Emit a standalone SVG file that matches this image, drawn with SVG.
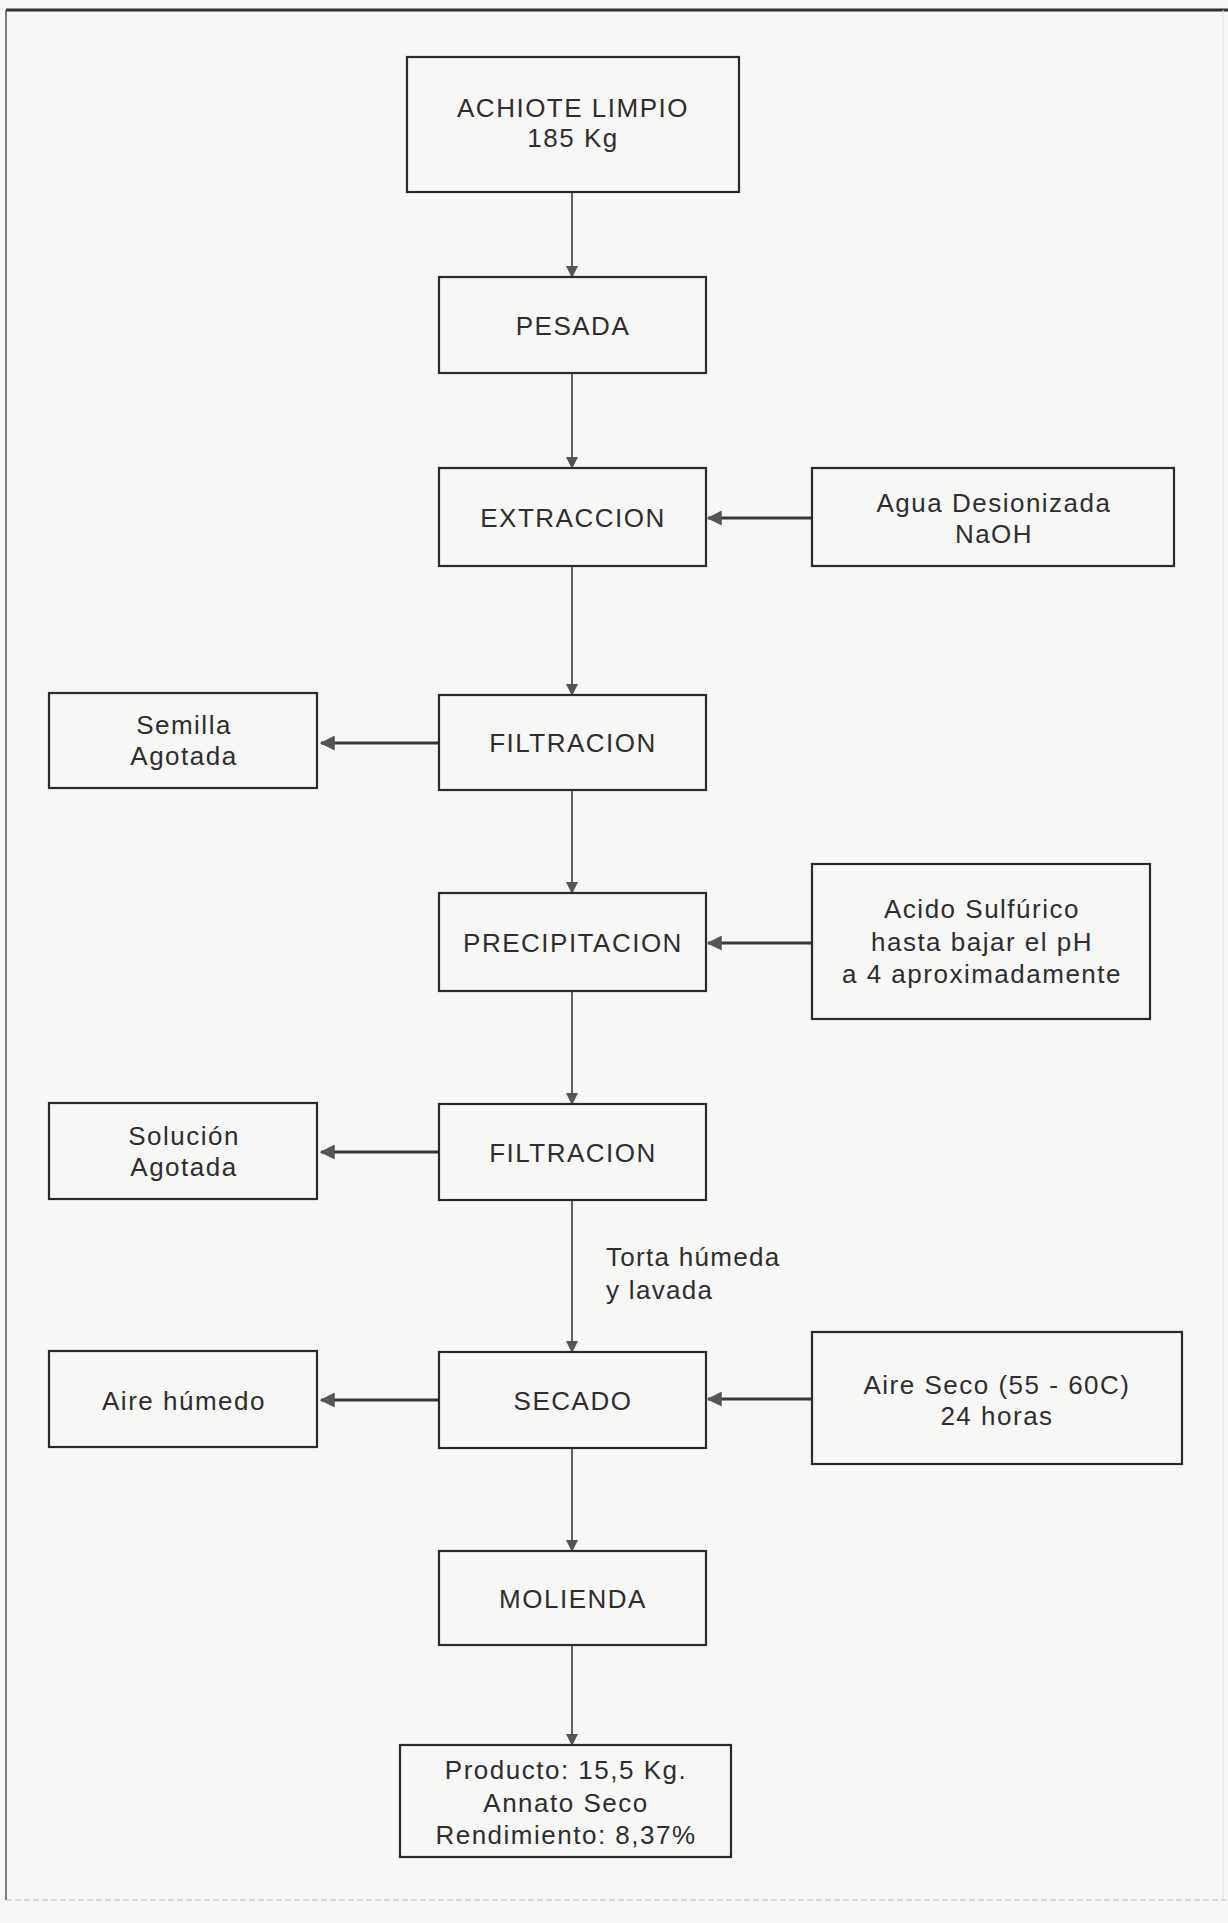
<svg xmlns="http://www.w3.org/2000/svg" width="1228" height="1923" viewBox="0 0 1228 1923">
<style>
.bx{fill:none;stroke:#2b2b2b;stroke-width:2.2}
.t{font-family:"Liberation Sans",Arial,sans-serif;font-size:26px;letter-spacing:1.5px;fill:#2e2e2e;text-anchor:middle}
.ts{font-family:"Liberation Sans",Arial,sans-serif;font-size:26px;letter-spacing:1.3px;fill:#2e2e2e;text-anchor:start}
.v{stroke:#3a3a3a;stroke-width:1.6;fill:none}
.h{stroke:#3a3a3a;stroke-width:3;fill:none}
</style>
<defs>
<marker id="ah" viewBox="0 0 12 12" refX="11" refY="6" markerWidth="12" markerHeight="12" markerUnits="userSpaceOnUse" orient="auto">
<path d="M0,0 L12,6 L0,12 z" fill="#555"/>
</marker>
<marker id="ahh" viewBox="0 0 12 12" refX="11" refY="6" markerWidth="5" markerHeight="5" orient="auto">
<path d="M0,0 L12,6 L0,12 z" fill="#555"/>
</marker>
</defs>
<rect x="0" y="0" width="1228" height="1923" fill="#f7f7f6"/>
<g id="frame">
<line x1="6" y1="10" x2="1228" y2="10" stroke="#2f2f2f" stroke-width="3"/>
<line x1="6" y1="10" x2="6" y2="1900" stroke="#555" stroke-width="1.5"/>
<line x1="6" y1="1900" x2="1228" y2="1900" stroke="#bbb" stroke-width="1.2" stroke-dasharray="6,3"/>
<line x1="1223" y1="10" x2="1223" y2="1900" stroke="#e2e2e2" stroke-width="1"/>
</g>
<g id="connectors">
<line class="v" x1="572" y1="192" x2="572" y2="277" marker-end="url(#ah)"/>
<line class="v" x1="572" y1="373" x2="572" y2="468" marker-end="url(#ah)"/>
<line class="h" x1="812" y1="518" x2="708" y2="518" marker-end="url(#ahh)"/>
<line class="v" x1="572" y1="566" x2="572" y2="695" marker-end="url(#ah)"/>
<line class="h" x1="439" y1="743" x2="321" y2="743" marker-end="url(#ahh)"/>
<line class="v" x1="572" y1="790" x2="572" y2="893" marker-end="url(#ah)"/>
<line class="h" x1="812" y1="943" x2="708" y2="943" marker-end="url(#ahh)"/>
<line class="v" x1="572" y1="991" x2="572" y2="1104" marker-end="url(#ah)"/>
<line class="h" x1="439" y1="1152" x2="321" y2="1152" marker-end="url(#ahh)"/>
<line class="v" x1="572" y1="1200" x2="572" y2="1352" marker-end="url(#ah)"/>
<line class="h" x1="439" y1="1400" x2="321" y2="1400" marker-end="url(#ahh)"/>
<line class="h" x1="812" y1="1399" x2="708" y2="1399" marker-end="url(#ahh)"/>
<line class="v" x1="572" y1="1448" x2="572" y2="1551" marker-end="url(#ah)"/>
<line class="v" x1="572" y1="1645" x2="572" y2="1745" marker-end="url(#ah)"/>
<text class="ts" x="606" y="1266">Torta húmeda</text>
<text class="ts" x="606" y="1299">y lavada</text>
</g>
<g id="achiote">
<rect class="bx" x="407" y="57" width="332" height="135"/>
<text class="t" x="573" y="117">ACHIOTE LIMPIO</text>
<text class="t" x="573" y="147">185 Kg</text>
</g>
<g id="pesada">
<rect class="bx" x="439" y="277" width="267" height="96"/>
<text class="t" x="573" y="335">PESADA</text>
</g>
<g id="extraccion">
<rect class="bx" x="439" y="468" width="267" height="98"/>
<text class="t" x="573" y="527">EXTRACCION</text>
</g>
<g id="agua">
<rect class="bx" x="812" y="468" width="362" height="98"/>
<text class="t" x="994" y="512">Agua Desionizada</text>
<text class="t" x="994" y="543">NaOH</text>
</g>
<g id="filtracion1">
<rect class="bx" x="439" y="695" width="267" height="95"/>
<text class="t" x="573" y="752">FILTRACION</text>
</g>
<g id="semilla">
<rect class="bx" x="49" y="693" width="268" height="95"/>
<text class="t" x="184" y="734">Semilla</text>
<text class="t" x="184" y="765">Agotada</text>
</g>
<g id="precipitacion">
<rect class="bx" x="439" y="893" width="267" height="98"/>
<text class="t" x="573" y="952">PRECIPITACION</text>
</g>
<g id="acido">
<rect class="bx" x="812" y="864" width="338" height="155"/>
<text class="t" x="982" y="918">Acido Sulfúrico</text>
<text class="t" x="982" y="951">hasta bajar el pH</text>
<text class="t" x="982" y="983">a 4 aproximadamente</text>
</g>
<g id="filtracion2">
<rect class="bx" x="439" y="1104" width="267" height="96"/>
<text class="t" x="573" y="1162">FILTRACION</text>
</g>
<g id="solucion">
<rect class="bx" x="49" y="1103" width="268" height="96"/>
<text class="t" x="184" y="1145">Solución</text>
<text class="t" x="184" y="1176">Agotada</text>
</g>
<g id="secado">
<rect class="bx" x="439" y="1352" width="267" height="96"/>
<text class="t" x="573" y="1410">SECADO</text>
</g>
<g id="aire-humedo">
<rect class="bx" x="49" y="1351" width="268" height="96"/>
<text class="t" x="184" y="1410">Aire húmedo</text>
</g>
<g id="aire-seco">
<rect class="bx" x="812" y="1332" width="370" height="132"/>
<text class="t" x="997" y="1394">Aire Seco (55 - 60C)</text>
<text class="t" x="997" y="1425">24 horas</text>
</g>
<g id="molienda">
<rect class="bx" x="439" y="1551" width="267" height="94"/>
<text class="t" x="573" y="1608">MOLIENDA</text>
</g>
<g id="producto">
<rect class="bx" x="400" y="1745" width="331" height="112"/>
<text class="t" x="566" y="1779">Producto: 15,5 Kg.</text>
<text class="t" x="566" y="1812">Annato Seco</text>
<text class="t" x="566" y="1844">Rendimiento: 8,37%</text>
</g>
</svg>
